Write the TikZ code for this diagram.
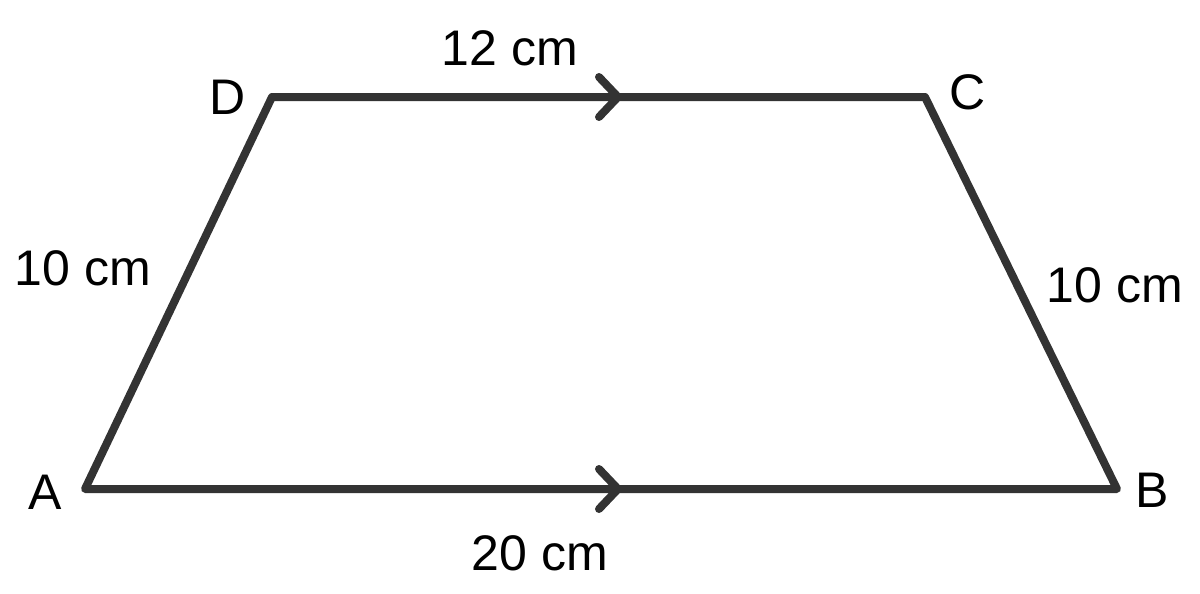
\documentclass[tikz,border=0pt]{standalone}
\usepackage{fontspec}
\setmainfont{Liberation Sans}
\begin{document}
\begin{tikzpicture}[x=0.5pt,y=-0.5pt,
  edge/.style={draw=black!80, line width=4pt, line cap=round, line join=round},
  lbl/.style={font=\fontsize{25}{30}\selectfont, inner sep=0pt}]
\useasboundingbox (0,0) rectangle (1200,594);
\coordinate (A) at (85,489);
\coordinate (B) at (1117,489);
\coordinate (C) at (925,97);
\coordinate (D) at (272,97);
\draw[edge] (A) -- (B) -- (C) -- (D) -- cycle;
\coordinate (m1) at (618,97);
\coordinate (m2) at (618,489);
\draw[edge] ([shift={(-19,-20)}]m1) -- (m1) -- ([shift={(-19,20)}]m1);
\draw[edge] ([shift={(-19,-20)}]m2) -- (m2) -- ([shift={(-19,20)}]m2);
\node[lbl] (lA) at (45,492) {A};
\node[lbl] (lB) at (1152,490) {B};
\node[lbl] (lC) at (968,92) {C};
\node[lbl] (lD) at (228,97) {D};
\node[lbl] (t12) at (510,48) {12 cm};
\node[lbl] (t20) at (540,553) {20 cm};
\node[lbl] (tl) at (83,268) {10 cm};
\node[lbl] (tr) at (1115,285) {10 cm};
\end{tikzpicture}
\end{document}
